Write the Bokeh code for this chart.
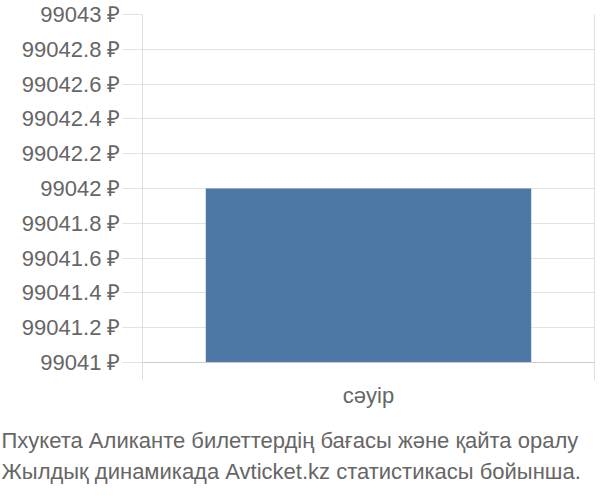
from bokeh.plotting import figure
from bokeh.models import Range1d, FactorRange, FixedTicker, CustomJSTickFormatter, Span, Title
from bokeh.embed import file_html
from bokeh.resources import INLINE

# data
categories = ["сәуір"]
prices = [99042]
y_ticks = [99041, 99041.2, 99041.4, 99041.6, 99041.8, 99042, 99042.2, 99042.4, 99042.6, 99042.8, 99043]
title_lines = ["Пхукета Аликанте билеттердің бағасы және қайта оралу",
               "Жылдық динамикада Avticket.kz статистикасы бойынша."]

FONT = "Liberation Sans"
TXT = "#666666"

y_start = y_ticks[0]
y_end = y_ticks[-1]
pad = 18 / 174.0  # frame extends 18px below baseline

p = figure(width=600, height=500, output_backend="svg", toolbar_location=None,
           x_range=FactorRange(*categories, range_padding=0),
           y_range=Range1d(y_start - pad, y_end),
           min_border_left=142, min_border_right=6, min_border_top=14, min_border_bottom=120)
p.outline_line_color = None
p.background_fill_color = "white"
p.border_fill_color = "white"

p.vbar(x=categories, top=prices, bottom=[y_start] * len(prices), width=0.72,
       fill_color="#4d78a6", line_color=None)

# y axis
yax = p.yaxis[0]
yax.ticker = FixedTicker(ticks=y_ticks)
yax.formatter = CustomJSTickFormatter(code="return (Math.round(tick*10)/10).toString() + ' \u20bd';")
yax.axis_line_color = None
yax.major_tick_in = 0
yax.major_tick_out = 20
yax.major_tick_line_color = "#e3e3e3"
yax.minor_tick_line_color = None
yax.major_label_standoff = 2
yax.major_label_text_font = FONT
yax.major_label_text_font_size = "22px"
yax.major_label_text_color = TXT

p.ygrid.ticker = FixedTicker(ticks=y_ticks)
p.ygrid.grid_line_color = "#e3e3e3"
p.xgrid.visible = False

# x axis
xax = p.xaxis[0]
xax.axis_line_color = None
xax.major_tick_line_color = None
xax.major_tick_out = 0
xax.major_label_standoff = 2
xax.major_label_text_font = FONT
xax.major_label_text_font_size = "22px"
xax.major_label_text_color = TXT

# baseline and category boundary lines
p.add_layout(Span(location=y_start, dimension="width", line_color="#cccccc", line_width=1))
p.add_layout(Span(location=0, dimension="height", line_color="#c0c0c0", line_width=1))
p.add_layout(Span(location=len(categories), dimension="height", line_color="#c0c0c0", line_width=1))

t = Title(text="\n".join(title_lines), align="left", offset=-141, text_font=FONT,
          text_font_size="22px", text_font_style="normal", text_color=TXT,
          text_line_height=1.22, standoff=30)
p.add_layout(t, "below")

open("out.html", "w").write(file_html(p, INLINE))
